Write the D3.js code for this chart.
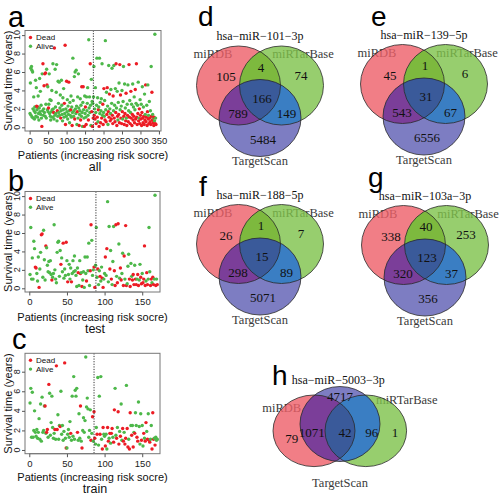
<!DOCTYPE html>
<html><head><meta charset="utf-8">
<script src="https://cdn.jsdelivr.net/npm/d3@7"></script>
<style>body{margin:0;background:#fff}svg{display:block}</style>
</head><body>
<svg id="chart" width="500" height="494"></svg>
<script>
// ---------- scatter data (survival time, years; 1 = dead, 0 = alive) ----------
const allTime = [
1.5,4.8,6.4,1.3,6.6,6.2,1.1,6.0,2.0,1.0, 3.3,1.8,0.9,2.2,1.6,5.1,1.2,4.3,2.3,1.9,
1.1,2.2,3.4,1.5,0.8,2.1,5.3,1.7,3.9,1.4, 2.4,1.0,0.1,5.8,1.8,6.9,1.3,2.0,4.5,1.6,
5.8,1.2,5.9,2.5,1.0,6.3,4.6,1.9,4.4,1.7, 2.1,2.5,5.8,1.5,3.0,1.2,0.8,2.9,1.7,4.0,
1.9,1.1,6.9,2.0,1.6,0.9,8.6,1.3,6.3,2.2, 1.5,3.8,6.8,0.7,1.8,1.2,5.0,2.6,1.6,4.9,
1.3,2.1,3.5,1.0,1.8,5.1,2.4,1.4,0.7,3.2, 1.9,4.2,1.1,2.6,1.5,8.9,0.3,2.0,1.2,5.0,
1.7,3.0,0.9,2.3,1.4,4.9,1.8,0.5,2.7,1.3, 1.9,3.4,1.1,2.2,0.2,1.6,7.5,2.9,1.2,1.8,
5.5,0.9,6.0,2.0,1.5,6.2,2.3,0.3,1.7,3.3, 1.0,5.8,2.1,0.2,1.4,1.8,3.1,0.8,2.4,1.2,
4.4,1.6,0.1,2.7,4.4,1.9,1.0,0.1,3.4,1.5, 2.2,1.1,0.3,3.3,1.8,2.6,4.3,1.3,0.8,9.5,
2.1,3.3,1.6,6.9,2.4,0.2,5.2,1.7,2.8,0.1, 2.6,1.0,3.3,6.6,1.3,2.0,0.9,4.3,1.6,0.4,
2.4,7.5,1.1,3.2,0.6,1.9,2.2,0.1,7.5,1.5, 2.7,0.5,1.8,3.1,1.0,6.9,1.3,2.5,0.3,1.6,
4.2,1.2,2.9,0.8,9.4,1.9,0.6,3.8,1.4,4.3, 2.3,0.3,1.7,6.7,1.1,3.6,2.0,0.7,1.5,4.1,
0.9,2.6,6.4,1.3,0.4,3.4,1.8,6.7,1.0,2.4, 0.6,4.2,1.6,6.9,2.1,0.2,3.9,1.2,0.8,2.7,
1.4,4.8,0.5,6.8,1.9,3.5,1.0,2.3,0.4,4.0, 1.7,0.9,2.8,6.6,1.2,0.3,4.7,1.5,2.1,0.7,
3.7,1.0,0.2,2.5,1.3,4.6,0.6,1.8,6.8,1.1, 2.9,0.4,1.6,3.9,1.0,2.5,0.2,1.4,4.7,0.8,
2.2,1.2,3.3,0.5,1.9,4.1,0.9,2.6,6.9,1.1, 0.3,2.4,1.5,4.9,0.7,1.0,2.0,0.4,3.0,1.3,
0.9,2.5,0.2,1.6,4.4,1.0,0.5,2.2,1.2,0.3, 3.6,0.8,1.4,4.6,0.6,1.1,2.4,0.2,1.7,4.6,
0.9,1.3,0.4,2.8,1.0,0.6,1.8,0.3,6.6,1.2, 3.8,0.8,1.4,0.5,1.0,0.2,1.1,0.7,10.1,0.4,
1.0,0.3];
const allDead = [
0,0,0,0,0,0,0,0,0,0, 0,0,0,0,0,0,0,0,1,0,
0,1,0,0,0,0,0,0,0,0, 0,0,1,0,0,1,0,0,1,0,
1,0,1,0,0,0,1,0,0,0, 1,0,0,0,0,0,0,0,0,0,
0,0,0,0,1,0,1,0,0,0, 0,0,0,0,1,0,0,0,0,0,
0,0,0,1,0,0,0,0,0,0, 0,0,0,1,0,1,1,0,0,1,
0,0,0,0,0,1,0,0,0,0, 1,0,0,0,1,0,0,0,0,0,
0,1,0,0,0,0,0,0,1,0, 0,0,0,1,0,0,0,1,0,0,
1,0,0,0,1,0,0,1,0,0, 1,0,1,0,0,0,0,0,1,0,
0,0,0,1,0,0,0,1,0,1, 0,1,0,0,1,0,1,0,0,1,
0,0,1,0,0,1,0,1,0,0, 0,1,0,0,1,0,0,1,1,0,
1,0,0,1,0,0,1,0,1,1, 0,0,1,0,1,1,0,1,0,0,
1,0,0,1,1,1,0,0,1,0, 1,0,1,1,0,1,0,1,0,0,
1,0,1,1,0,1,1,0,1,0, 1,0,0,0,1,1,0,1,0,1,
1,0,1,0,1,0,1,0,1,1, 0,1,0,1,1,0,1,1,0,1,
0,1,0,1,0,1,1,0,1,1, 1,0,1,0,1,0,1,1,0,1,
1,0,1,1,0,1,1,0,1,1, 0,1,0,1,1,1,0,1,1,0,
1,0,1,0,1,1,0,1,0,1, 1,1,0,1,0,1,1,0,0,1,
0,1];
const testTime = [
1.5,6.6,1.0,3.3,1.0,5.1,4.3,2.3,2.2,1.6, 0.8,3.4,0.1,2.1,3.9,5.8,5.9,1.2,6.3,3.1,
0.9,4.6,4.4,2.5,1.8,2.9,1.7,3.0,1.5,0.9, 1.2,1.6,6.9,2.0,1.0,0.6,3.9,5.0,5.1,1.3,
4.1,2.6,3.3,1.8,4.9,1.1,2.1,1.4,5.0,3.0, 0.7,1.5,2.6,1.0,2.2,0.7,1.6,3.0,1.8,3.5,
1.9,1.4,0.2,2.2,1.7,0.3,3.0,1.6,1.7,0.2, 0.9,1.8,0.1,3.4,1.6,0.8,3.4,1.9,4.9,0.3,
1.9,6.9,5.2,1.4,2.0,2.3,0.1,2.5,6.6,1.2, 2.1,0.4,1.9,1.3,0.8,2.3,1.1,0.1,1.0,1.6,
3.4,1.4,4.3,9.4,0.7,6.7,2.1,4.1,1.0,0.4, 2.9,6.7,1.9,0.3,6.9,1.3,0.6,7.0,4.8,1.1,
2.2,0.9,1.6,3.8,0.3,3.5,1.0,6.8,0.3,0.5, 2.4,3.7,1.0,0.2,2.7,1.3,0.9,1.5,0.4,2.5,
1.0,0.4,1.0,1.5,0.3,0.9,2.6,1.2,0.5,1.6, 0.6,1.0,4.6,0.3,0.8,1.7,0.4,1.0,6.6,1.8,
0.3,1.0,0.6,1.2,0.4,1.0,10.1,0.3,1.0,0.4];
const testDead = [
0,0,0,0,0,0,0,1,1,0, 0,0,1,0,0,1,1,0,0,0,
0,1,0,0,0,0,0,0,0,1, 0,0,0,0,0,0,0,0,0,0,
0,1,0,0,1,0,0,0,1,0, 1,0,0,0,0,1,0,0,0,0,
0,0,0,0,1,0,0,1,0,1, 0,0,0,0,0,1,0,0,0,0,
1,1,0,0,0,1,1,0,0,0, 1,0,0,1,0,0,1,1,0,0,
1,0,1,0,0,0,1,0,1,0, 0,0,1,1,1,0,1,1,0,0,
1,1,0,0,1,1,0,1,1,0, 0,0,1,1,0,0,1,1,1,0,
1,1,0,1,1,0,0,1,1,0, 1,1,1,1,0,1,1,0,0,0,
1,1,0,1,1,0,0,1,0,1];
const trainTime = [
4.8,6.3,1.3,5.9,1.3,2.0,4.0,1.8,1.4,2.1, 1.2,1.8,3.2,1.1,4.7,0.9,5.4,1.8,2.0,4.5,
4.5,1.7,1.8,2.1,1.3,6.7,5.8,1.5,2.8,5.5, 2.3,1.2,1.7,2.1,1.1,8.6,2.1,3.6,1.1,2.5,
2.4,6.0,1.6,2.5,1.0,1.9,8.9,1.2,0.2,0.2, 1.6,2.1,1.3,2.9,1.7,1.0,5.5,1.4,7.5,1.1,
6.1,5.5,6.3,1.8,1.0,3.7,1.2,4.5,0.9,0.2, 2.0,3.3,1.8,3.0,9.5,4.4,5.3,4.2,1.3,2.0,
4.1,1.0,1.7,3.4,0.9,3.9,1.2,0.6,2.3,1.6, 7.4,0.5,5.5,1.6,7.5,1.1,0.1,2.3,1.6,1.4,
0.4,1.6,0.1,2.3,0.9,1.2,1.7,0.7,1.7,2.2, 1.3,0.8,4.1,6.3,1.5,1.2,2.3,3.9,0.6,1.9,
1.4,4.7,1.0,2.2,0.9,1.8,0.6,1.2,6.6,2.2, 0.3,1.1,0.1,3.8,2.5,1.5,2.5,0.3,1.8,1.7,
3.8,2.5,1.3,0.9,4.9,2.4,0.6,3.7,1.0,2.5, 0.4,1.7,1.2,0.9,2.8,1.9,1.1,3.7,1.0,0.8,
1.1,2.5,0.1,3.8,1.1,1.2,0.5,1.3,1.0,1.1];
const trainDead = [
0,0,0,0,0,0,0,0,0,0, 0,0,0,0,0,0,0,0,0,0,
1,0,1,1,0,1,0,0,0,0, 0,0,0,1,0,1,1,0,0,0,
1,0,0,0,0,0,1,0,1,0, 0,0,0,0,1,0,0,0,0,0,
0,0,0,1,0,0,0,1,0,1, 0,0,0,0,0,0,0,0,0,0,
0,1,0,1,0,1,1,0,0,1, 0,0,0,1,0,0,1,1,0,0,
1,0,0,1,1,0,1,0,1,1, 0,1,1,0,0,1,0,1,1,0,
1,0,0,1,1,0,1,1,0,1, 1,0,1,1,0,1,0,1,0,1,
0,0,1,1,0,0,0,0,1,0, 0,1,0,1,1,0,1,0,1,1,
0,0,1,1,1,0,1,0,0,0];
const scatterSubtitles = ["all", "test", "train"];
const scatterLetters = ["a", "b", "c"];
const cutoffs = [172.5, 88.5, 86];
const xTicksAll = [0, 50, 100, 150, 200, 250, 300, 350];
const xTicksHalf = [0, 50, 100, 150];
const yTicks10 = [0, 2, 4, 6, 8, 10];
const yTicks8 = [0, 2, 4, 6, 8];
const legendLabels = ["Dead", "Alive"];

// ---------- Venn data ----------
const vennLetters = ["d", "e", "f", "g", "h"];
const vennTitles = ["hsa\u2212miR\u2212101\u22123p", "hsa\u2212miR\u2212139\u22125p", "hsa\u2212miR\u2212188\u22125p", "hsa\u2212miR\u2212103a\u22123p", "hsa\u2212miR\u22125003\u22123p"];
const vennSets = ["miRDB", "miRTarBase", "TargetScan"];
// order: miRDB only, miRDB∩miRTarBase, miRTarBase only, all three, miRDB∩TargetScan, miRTarBase∩TargetScan, TargetScan only
const vennCounts = [
  [105, 4, 74, 166, 789, 149, 5484],
  [45, 1, 6, 31, 543, 67, 6556],
  [26, 1, 7, 15, 298, 89, 5071],
  [338, 40, 253, 123, 320, 37, 356],
  [79, null, 1, 42, 1071, 96, 4717]
];

const RED = "#EC1C24", GREEN = "#4DB84A";
const regionCol = {R:"rgb(238,95,104)", G:"rgb(126,194,74)", B:"rgb(93,93,180)",
  RG:"rgb(93,168,15)", RB:"rgb(91,15,128)", GB:"rgb(9,95,181)", RGB:"rgb(10,49,130)"};

const svg = d3.select("#chart");
const SANS = "Arial, 'Liberation Sans', sans-serif";
const SERIF = "'Liberation Serif', 'Times New Roman', serif";

function scatter(p) {
  const g = svg.append("g");
  const x = d3.scaleLinear().domain(p.xdom).range([p.x0, p.x1]);
  const y = d3.scaleLinear().domain(p.ydom).range([p.y1, p.y0]);
  const pts = p.time.map((t, i) => ({i: i + 1, t, d: p.dead[i]}));
  g.selectAll("circle.pt").data(pts).join("circle").attr("class", "pt")
    .attr("cx", d => x(d.i)).attr("cy", d => y(d.t)).attr("r", 1.7)
    .attr("fill", d => d.d ? RED : GREEN);
  g.append("line").attr("x1", x(p.cut)).attr("x2", x(p.cut)).attr("y1", p.y0).attr("y2", p.y1)
    .attr("stroke", "#333").attr("stroke-width", 1).attr("stroke-dasharray", "1.2,1.4");
  g.append("rect").attr("x", p.x0).attr("y", p.y0).attr("width", p.x1 - p.x0).attr("height", p.y1 - p.y0)
    .attr("fill", "none").attr("stroke", "#777").attr("stroke-width", 1);
  // x axis
  const xa = g.append("g").attr("transform", `translate(0,${p.y1})`)
    .call(d3.axisBottom(x).tickValues(p.xticks).tickSize(3.5).tickPadding(3));
  xa.select(".domain").remove();
  xa.selectAll("line").attr("stroke", "#555");
  xa.selectAll("text").attr("font-family", SANS).attr("font-size", 9.5).attr("fill", "#222");
  g.append("line").attr("x1", x(p.xticks[0])).attr("x2", x(p.xticks[p.xticks.length - 1]))
    .attr("y1", p.y1).attr("y2", p.y1).attr("stroke", "#777");
  // y axis
  const ya = g.append("g").attr("transform", `translate(${p.x0},0)`)
    .call(d3.axisLeft(y).tickValues(p.yticks).tickSize(3).tickFormat(""));
  ya.select(".domain").remove();
  ya.selectAll("line").attr("stroke", "#555");
  g.selectAll("text.yt").data(p.yticks).join("text").attr("class", "yt")
    .attr("transform", d => `translate(${p.x0 - 5},${y(d)}) rotate(-90)`)
    .attr("text-anchor", "middle").attr("font-family", SANS).attr("font-size", 9).attr("fill", "#222")
    .text(d => d);
  // titles
  g.append("text").attr("transform", `translate(11.5,${(p.y0 + p.y1) / 2}) rotate(-90)`)
    .attr("text-anchor", "middle").attr("font-family", SANS).attr("font-size", 11).attr("fill", "#111")
    .text("Survival time (years)");
  g.append("text").attr("x", (p.x0 + p.x1) / 2).attr("y", p.xtitleY).attr("text-anchor", "middle")
    .attr("font-family", SANS).attr("font-size", 11).attr("fill", "#111")
    .text("Patients (increasing risk socre)");
  g.append("text").attr("x", 95).attr("y", p.subY).attr("text-anchor", "middle")
    .attr("font-family", SANS).attr("font-size", 12.5).attr("fill", "#111").text(p.sub);
  g.append("text").attr("x", p.letterX).attr("y", p.letterY).attr("font-family", SANS)
    .attr("font-size", 29).attr("fill", "#000").text(p.letter);
  // legend
  const lg = g.append("g");
  [RED, GREEN].forEach((c, k) => {
    lg.append("circle").attr("cx", p.x0 + 5.5).attr("cy", p.y0 + 7 + k * 8.8).attr("r", 1.7).attr("fill", c);
    lg.append("text").attr("x", p.x0 + 11).attr("y", p.y0 + 9.9 + k * 8.8).attr("font-family", SANS)
      .attr("font-size", 8).attr("fill", "#111").text(legendLabels[k]);
  });
}

const boxes = [
  {x0: 25, x1: 161, y0: 30.5, y1: 131, xdom: [-12.6, 355.6], ydom: [-0.4, 10.5], xticks: xTicksAll, yticks: yTicks10,
   time: allTime, dead: allDead, xtitleY: 158.5, subY: 171, letterX: 8, letterY: 26.5},
  {x0: 25, x1: 160, y0: 191.5, y1: 292, xdom: [-5.7, 173.6], ydom: [-0.4, 10.5], xticks: xTicksHalf, yticks: yTicks10,
   time: testTime, dead: testDead, xtitleY: 320.5, subY: 333, letterX: 8, letterY: 191},
  {x0: 25, x1: 160, y0: 353.3, y1: 453.7, xdom: [-5.7, 173.6], ydom: [-0.38, 9.88], xticks: xTicksHalf, yticks: yTicks8,
   time: trainTime, dead: trainDead, xtitleY: 480.5, subY: 492.5, letterX: 12, letterY: 349}
];
boxes.forEach((b, k) => scatter(Object.assign(b, {cut: cutoffs[k], sub: scatterSubtitles[k], letter: scatterLetters[k]})));

// ---------- Venn ----------
const defs = svg.append("defs");
function venn(k, geo) {
  const g = svg.append("g");
  const [R, G, B] = geo.circles;
  const counts = vennCounts[k];
  // set labels (drawn beneath the translucent fills)
  geo.labels.forEach((l, j) => {
    g.append("text").attr("x", l[0]).attr("y", l[1]).attr("text-anchor", "middle")
      .attr("font-family", SERIF).attr("font-size", 12.5).attr("fill", "#3a3a3a").text(vennSets[j]);
  });
  const ell = (sel, c) => sel.attr("cx", c[0]).attr("cy", c[1]).attr("rx", c[2]).attr("ry", c[3]);
  ell(defs.append("clipPath").attr("id", "cr" + k).append("ellipse"), R);
  ell(defs.append("clipPath").attr("id", "cg" + k).append("ellipse"), G);
  const f = g.append("g").attr("opacity", 0.8);
  ell(f.append("ellipse"), R).attr("fill", regionCol.R);
  ell(f.append("ellipse"), G).attr("fill", regionCol.G);
  ell(f.append("ellipse"), B).attr("fill", regionCol.B);
  ell(f.append("ellipse"), G).attr("fill", regionCol.RG).attr("clip-path", `url(#cr${k})`);
  ell(f.append("ellipse"), B).attr("fill", regionCol.RB).attr("clip-path", `url(#cr${k})`);
  ell(f.append("ellipse"), B).attr("fill", regionCol.GB).attr("clip-path", `url(#cg${k})`);
  ell(f.append("g").attr("clip-path", `url(#cr${k})`).append("ellipse"), B)
    .attr("fill", regionCol.RGB).attr("clip-path", `url(#cg${k})`);
  [R, G, B].forEach(c => ell(g.append("ellipse"), c).attr("fill", "none").attr("stroke", "#2a2a2a").attr("stroke-width", 0.8));
  counts.forEach((v, j) => {
    if (v === null) return;
    g.append("text").attr("x", geo.nums[j][0]).attr("y", geo.nums[j][1] + 4.5).attr("text-anchor", "middle")
      .attr("font-family", SERIF).attr("font-size", 13).attr("fill", "#111").text(v);
  });
  g.append("text").attr("x", geo.title[0]).attr("y", geo.title[1] + 4).attr("text-anchor", "middle")
    .attr("font-family", SERIF).attr("font-size", 12).attr("fill", "#111").text(vennTitles[k]);
  g.append("text").attr("x", geo.letter[0]).attr("y", geo.letter[1]).attr("font-family", SANS)
    .attr("font-size", 28).attr("fill", "#000").text(vennLetters[k]);
}
function stdGeo(cx, ty, letter) {
  return {
    circles: [[cx - 21.5, ty + 49.5, 42, 39.5], [cx + 21.5, ty + 49.5, 42, 39.5], [cx, ty + 82, 41, 38.5]],
    labels: [[cx - 47, ty + 22], [cx + 43, ty + 22], [cx, ty + 129]],
    nums: [[cx - 34, ty + 40.5], [cx + 1, ty + 31], [cx + 41, ty + 39], [cx + 2, ty + 62],
           [cx - 22, ty + 77.5], [cx + 26.5, ty + 77.5], [cx + 3, ty + 103]],
    title: [cx, ty], letter: letter
  };
}
venn(0, stdGeo(260, 36, [198, 26]));
venn(1, stdGeo(424, 34.5, [371, 25.5]));
venn(2, stdGeo(260, 194.5, [199, 196]));
venn(3, stdGeo(425, 195.5, [368, 187]));
venn(4, {
  circles: [[314, 430.8, 41, 35.8], [365.8, 430.8, 40.8, 35.8], [340, 424, 40, 37.5]],
  labels: [[281.7, 412], [406.7, 404], [340, 487]],
  nums: [[291.7, 438.3], null, [395, 432.7], [345, 432.7], [311.7, 432.7], [371.7, 432.7], [340, 396]],
  title: [338.3, 380], letter: [272, 385]
});
</script>
</body></html>
